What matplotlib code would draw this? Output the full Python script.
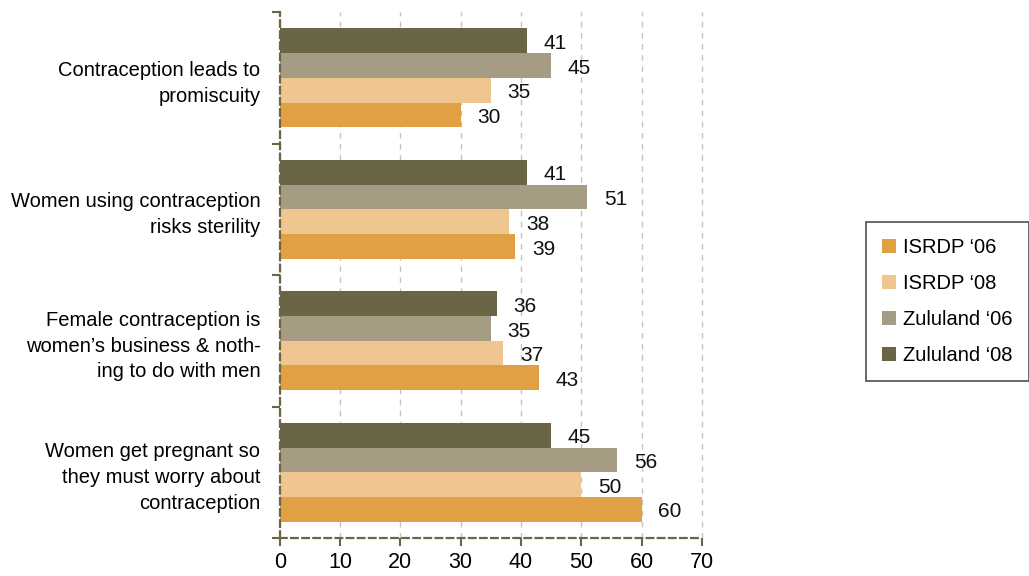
import matplotlib
matplotlib.use("Agg")
import matplotlib.pyplot as plt
import numpy as np

plt.rcParams['font.family'] = ['Liberation Sans', 'DejaVu Sans']

# chart data
categories = [
    "Contraception leads to\npromiscuity",
    "Women using contraception\nrisks sterility",
    "Female contraception is\nwomen\u2019s business & noth-\ning to do with men",
    "Women get pregnant so\nthey must worry about\ncontraception",
]
series_names = ["ISRDP \u201806", "ISRDP \u201808", "Zululand \u201806", "Zululand \u201808"]
isrdp_06 = [30, 39, 43, 60]
isrdp_08 = [35, 38, 37, 50]
zululand_06 = [45, 51, 35, 56]
zululand_08 = [41, 41, 36, 45]
x_ticks = [0, 10, 20, 30, 40, 50, 60, 70]

COLORS = ["#E2A044", "#EFC690", "#A59C83", "#696545"]
AXIS_COLOR = "#6B6545"
FS = 14.5

fig = plt.figure(figsize=(10.29, 5.76), dpi=100)
ax = fig.add_axes([0.272, 0.066, 0.41, 0.913])

series = [isrdp_06, isrdp_08, zululand_06, zululand_08]
h = 0.188
offsets = [1.5 * h, 0.5 * h, -0.5 * h, -1.5 * h]
y = np.arange(len(categories))

handles = []
for vals, off, col, name in zip(series, offsets, COLORS, series_names):
    b = ax.barh(y + off, vals, height=h, color=col, label=name, zorder=3)
    handles.append(b)
    for yi, v in zip(y + off, vals):
        ax.text(v + 2.8, yi + 0.02, str(v), va="center", ha="left", fontsize=15, color="#111111")

ax.set_xlim(0, 70)
ax.set_ylim(3.5, -0.5)

# x axis
ax.set_xticks(x_ticks)
ax.set_xticklabels([str(t) for t in x_ticks], fontsize=15.5)
ax.tick_params(axis="x", direction="out", length=6, width=1.5, color=AXIS_COLOR, pad=4)
ax.xaxis.grid(True, color="#c8c3ba", linestyle=(0, (4, 4)), linewidth=1, zorder=0)
for gl in ax.get_xgridlines():
    gl.set_clip_on(False)

# y axis: boundary ticks, labels at group centers
ax.set_yticks([-0.5, 0.5, 1.5, 2.5, 3.5])
ax.set_yticklabels([])
ax.tick_params(axis="y", which="major", direction="out", length=6, width=1.5, color=AXIS_COLOR)
ax.set_yticks(y, minor=True)
ax.set_yticklabels(categories, minor=True, fontsize=FS, linespacing=1.45)
ax.tick_params(axis="y", which="minor", length=0, pad=14)

for s in ["top", "right"]:
    ax.spines[s].set_visible(False)
for s in ["left", "bottom"]:
    ax.spines[s].set_color(AXIS_COLOR)
    ax.spines[s].set_linewidth(1.6)
    ax.spines[s].set_linestyle((0, (3, 2)))
    ax.spines[s].set_zorder(4)

leg = fig.legend(handles=handles, labels=series_names, loc="upper left",
                 bbox_to_anchor=(0.8416, 0.615), fontsize=FS, frameon=True,
                 fancybox=False, edgecolor="#222222", handlelength=0.7, handleheight=0.7,
                 handletextpad=0.35, labelspacing=0.85, borderpad=0.8, borderaxespad=0)
leg.get_frame().set_linewidth(1.2)

fig.savefig("out.png", dpi=100)
